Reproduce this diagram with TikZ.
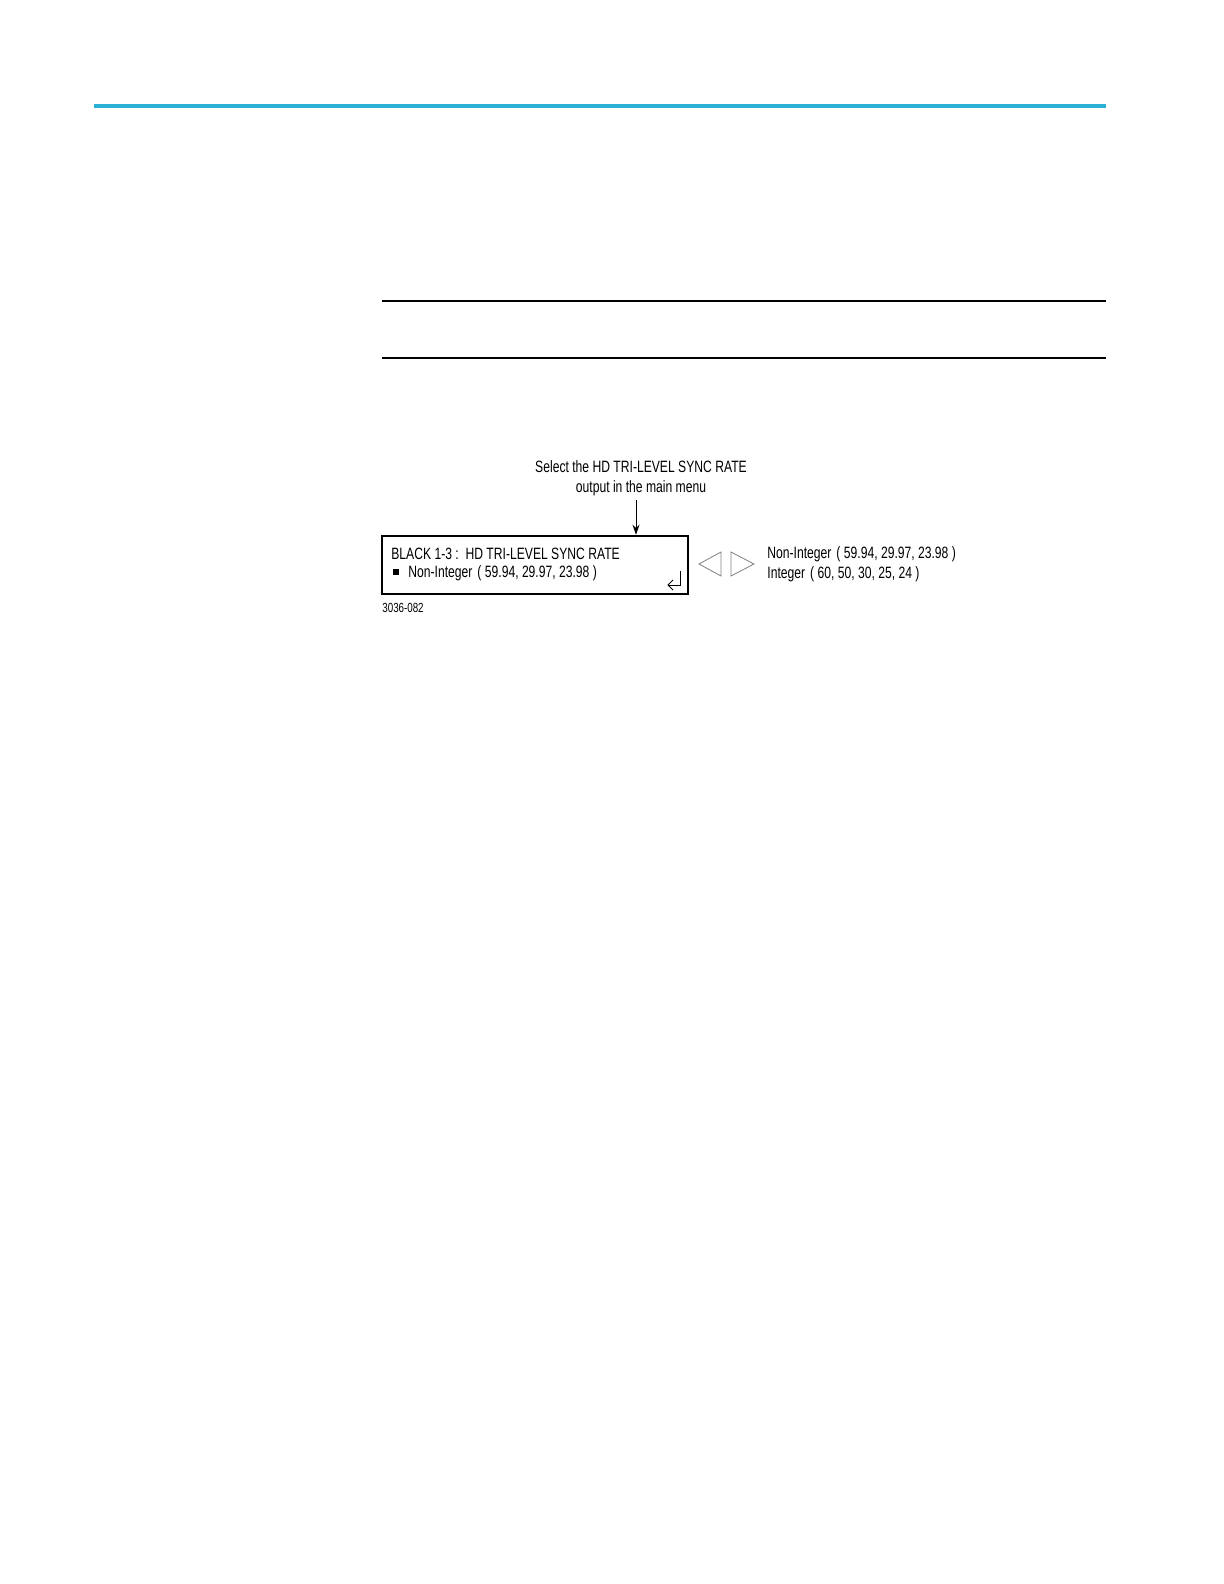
\documentclass[tikz,border=0pt]{standalone}
\usepackage{fontspec}
\setmainfont{Liberation Sans}[FakeStretch=0.74]
\usepackage{tikz}
\usetikzlibrary{arrows.meta}
\definecolor{rulecyan}{RGB}{41,178,214}

\begin{document}
\begin{tikzpicture}[x=0.5pt,y=-0.5pt,
    menu text/.style={inner sep=0pt,anchor=west,font=\fontsize{8.2}{10}\selectfont},
    menu box/.style={draw,line width=1.3pt,minimum width=153pt,minimum height=29pt,inner sep=0pt},
    nav tri/.style={draw=gray,line width=0.4pt}]
    \useasboundingbox (0,0) rectangle (1224,1584);
    % page rules
    \draw[rulecyan,line width=2pt] (94,106) -- (1106,106);
    \draw[line width=0.6pt] (382,301) -- (1106,301);
    \draw[line width=0.6pt] (382,358) -- (1106,358);
    % callout
    \node[inner sep=0pt,align=center,font=\fontsize{8.2}{10}\selectfont] (select) at (641,478)
        {Select the HD TRI-LEVEL SYNC RATE\\output in the main menu};
    \node[menu box] (menu) at (535,565) {};
    \coordinate (arrtop) at (636,500);
    \draw[line width=0.5pt,-{Stealth[length=5pt,width=3.5pt]}] (arrtop) -- (arrtop |- menu.north);
    % box contents
    \node[menu text] (title) at (391,554) {BLACK 1-3 :\ \ HD TRI-LEVEL SYNC RATE};
    \node[fill,minimum size=3pt,inner sep=0pt] (bullet) at (396,572) {};
    \node[menu text] (current) at (408,573) {Non-Integer\hspace{2.5pt}( 59.94, 29.97, 23.98 )};
    \draw[line width=0.5pt] (680,571) -- (680,585) -- (669,585);
    \draw[line width=0.5pt] (673,580) -- (668,585) -- (673,590);
    % left / right keys
    \draw[nav tri] (721,552) -- (699,564) -- (721,576) -- cycle;
    \draw[nav tri] (731,552) -- (754,564) -- (731,576) -- cycle;
    \node[menu text] (optA) at (767,554) {Non-Integer\hspace{2.5pt}( 59.94, 29.97, 23.98 )};
    \node[menu text] (optB) at (767,574) {Integer\hspace{2.5pt}( 60, 50, 30, 25, 24 )};
    \node[menu text,font=\fontsize{6.6}{8}\selectfont] (fignum) at (382,608) {3036-082};
\end{tikzpicture}
\end{document}
